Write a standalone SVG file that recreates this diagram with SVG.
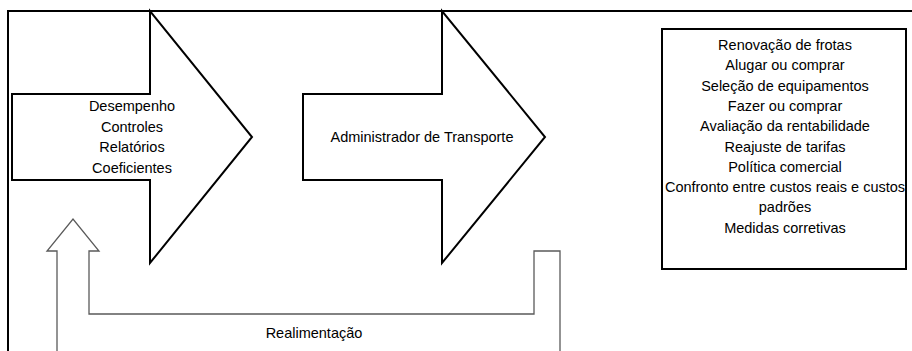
<svg xmlns="http://www.w3.org/2000/svg" width="912" height="351" viewBox="0 0 912 351">
<style>
.t{font-family:"Liberation Sans",Arial,sans-serif;font-size:14.5px;fill:#000;text-anchor:middle}
.arrow{fill:#fff;stroke:#000;stroke-width:2;stroke-linejoin:miter}
.fb{fill:none;stroke:#5a5a5a;stroke-width:1.3}
</style>
<rect width="912" height="351" fill="#fff"/>
<g id="frame"><path d="M8,351 V11 H912" fill="none" stroke="#000" stroke-width="2"/></g>
<g id="connectors">
<path class="fb" d="M57,351 V251 H47 L73,219 L99,251 H89 V314 H534 V251 H560 V351"/>
<text class="t" x="314" y="338">Realimentação</text>
</g>
<g id="arrow1">
<polygon class="arrow" points="12,94 150,94 150,11 252,137 150,263 150,180 12,180"/>
<text class="t" x="132" y="111">Desempenho</text>
<text class="t" x="132" y="131.5">Controles</text>
<text class="t" x="132" y="152">Relatórios</text>
<text class="t" x="132" y="173">Coeficientes</text>
</g>
<g id="arrow2">
<polygon class="arrow" points="303,94 442,94 442,11 545,137 442,263 442,180 303,180"/>
<text class="t" x="422" y="142">Administrador de Transporte</text>
</g>
<g id="box">
<rect x="662" y="29" width="244" height="240" fill="#fff" stroke="#000" stroke-width="2"/>
<text class="t" x="785" y="50">Renovação de frotas</text>
<text class="t" x="785" y="70.3">Alugar ou comprar</text>
<text class="t" x="785" y="90.6">Seleção de equipamentos</text>
<text class="t" x="785" y="110.9">Fazer ou comprar</text>
<text class="t" x="785" y="131.2">Avaliação da rentabilidade</text>
<text class="t" x="785" y="151.5">Reajuste de tarifas</text>
<text class="t" x="785" y="171.8">Política comercial</text>
<text class="t" x="785" y="192.1">Confronto entre custos reais e custos</text>
<text class="t" x="785" y="212.4">padrões</text>
<text class="t" x="785" y="232.7">Medidas corretivas</text>
</g>
</svg>
